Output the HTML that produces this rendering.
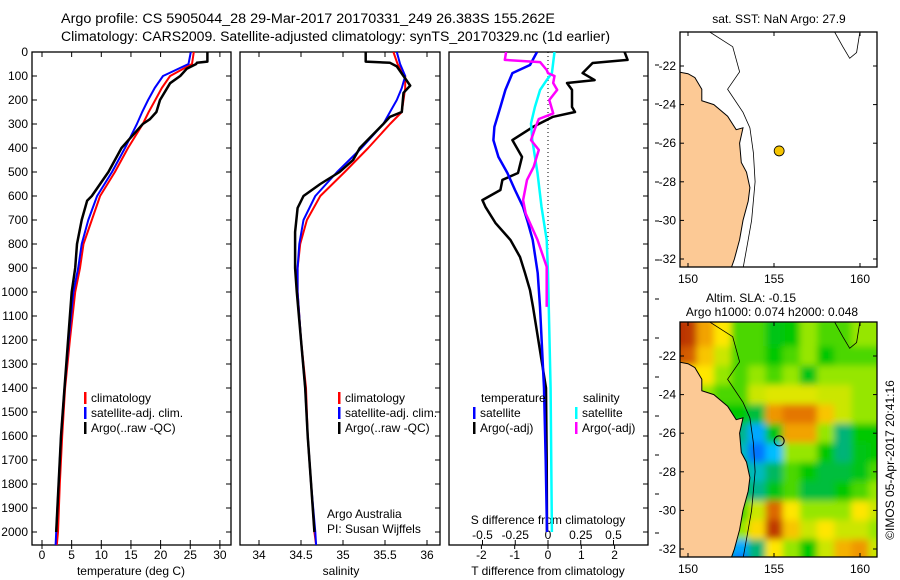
<!DOCTYPE html>
<html><head><meta charset="utf-8">
<style>
html,body{margin:0;padding:0;background:#fff;}
svg{display:block;font-family:"Liberation Sans",sans-serif;}
text{font-size:12px;fill:#000;}
</style></head>
<body>
<svg id="chart" width="900" height="580" viewBox="0 0 900 580">
<defs>
<clipPath id="c1"><rect x="32" y="52" width="199" height="493"/></clipPath>
<clipPath id="c2"><rect x="240" y="52" width="200" height="493"/></clipPath>
<clipPath id="c3"><rect x="449" y="52" width="199" height="493"/></clipPath>
<clipPath id="cm1"><rect x="680" y="32" width="197" height="235"/></clipPath>
<clipPath id="cm2"><rect x="680" y="322" width="197" height="235"/></clipPath>
<filter id="blur" x="-5%" y="-5%" width="110%" height="110%"><feGaussianBlur stdDeviation="3.5"/></filter>
</defs>
<text x="61" y="23" style="font-size:13.5px" textLength="494" lengthAdjust="spacingAndGlyphs">Argo profile: CS 5905044_28 29-Mar-2017 20170331_249 26.383S 155.262E</text>
<text x="61" y="41" style="font-size:13.5px" textLength="549" lengthAdjust="spacingAndGlyphs">Climatology: CARS2009. Satellite-adjusted climatology: synTS_20170329.nc (1d earlier)</text>
<g id="layer"></g>
</svg>
<script>
// ---------- data ----------
const depthTicks = [0,100,200,300,400,500,600,700,800,900,1000,1100,1200,1300,1400,1500,1600,1700,1800,1900,2000];
const tempTicks = [0,5,10,15,20,25,30];
const salTicks = [34,34.5,35,35.5,36];
const salTickLabels = ["34","34.5","35","35.5","36"];
const dTTicks = [-2,-1,0,1,2];
const dSTicks = [-0.5,-0.25,0,0.25,0.5];
const dSTickLabels = ["-0.5","-0.25","0","0.25","0.5"];

const climDepth = [0,50,100,150,200,250,300,400,500,600,700,800,900,1000,1200,1400,1600,1800,2000,2054];
const climTemp  = [25.6,25.3,21.6,20.2,19.1,18.0,17.0,14.5,12.3,9.8,8.4,7.0,6.4,5.6,4.7,3.9,3.4,3.0,2.7,2.5];
const satTemp   = [25.1,24.7,20.4,19.0,17.9,16.9,16.0,14.0,11.8,9.3,7.8,6.7,6.1,5.3,4.5,3.8,3.2,2.8,2.4,2.3];
const argoTDepth = [0,40,45,50,70,100,130,200,250,280,300,400,500,550,600,620,700,800,900,1000,1200,1400,1600,1800,2000];
const argoTemp   = [27.9,27.9,26.1,26.0,24.4,23.3,21.6,19.9,19.3,18.2,17.0,13.4,11.2,9.8,8.4,7.6,6.7,5.9,5.6,5.0,4.4,3.8,3.2,2.8,2.4];

const climSal = [35.60,35.65,35.74,35.74,35.72,35.70,35.56,35.30,35.02,34.73,34.57,34.49,34.46,34.46,34.50,34.56,34.58,34.62,34.66,34.68];
const satSal  = [35.64,35.68,35.74,35.70,35.64,35.56,35.48,35.22,34.93,34.67,34.53,34.48,34.46,34.46,34.50,34.55,34.58,34.62,34.67,34.68];
const argoSDepth = [0,40,45,60,100,140,170,250,270,300,400,450,500,550,600,650,750,900,1000,1200,1400,1600,1800,2000];
const argoSal    = [35.27,35.27,35.56,35.64,35.72,35.80,35.72,35.70,35.56,35.48,35.20,35.12,34.96,34.73,34.53,34.46,34.43,34.43,34.45,34.50,34.55,34.58,34.62,34.66];

const dTsatDepth = [0,54,88,158,229,312,367,437,504,575,645,712,783,921,1062,1400,1700,2000];
const dTsat      = [-0.33,-0.54,-1.07,-1.28,-1.43,-1.61,-1.64,-1.49,-1.22,-0.99,-0.75,-0.60,-0.46,-0.31,-0.24,-0.12,-0.07,-0.03];
const dTargoDepth = [0,33,46,88,117,129,158,229,250,270,312,367,437,504,533,575,617,645,712,783,854,921,992,1062,1400,1700,2000];
const dTargo      = [2.30,2.39,1.34,1.04,1.40,0.57,0.72,0.72,0.81,0.15,-0.45,-1.07,-0.78,-0.90,-1.37,-1.43,-1.97,-1.88,-1.58,-1.13,-0.84,-0.69,-0.54,-0.45,-0.06,-0.04,-0.03];
const dSsatDepth = [0,88,117,158,229,298,367,504,645,783,921,1400,2000];
const dSsat      = [0.05,0.03,-0.01,-0.06,-0.10,-0.13,-0.12,-0.08,-0.05,-0.01,0.00,0.02,0.03];
const dSargoDepth = [0,33,42,75,88,100,129,158,200,256,279,320,367,408,479,533,617,673,783,895,992,1062];
const dSargo      = [-0.32,-0.33,-0.06,-0.01,0.00,0.05,0.04,0.07,0.01,0.04,-0.07,-0.10,-0.13,-0.07,-0.11,-0.16,-0.19,-0.17,-0.08,-0.01,-0.01,-0.01];

const lonTicks = [150,155,160];
const latTicks = [-22,-24,-26,-28,-30,-32];
const argoLon = 155.3, argoLat = -26.4;
const slaLats = [-20.5,-21,-22,-23,-24,-25,-26,-27,-28,-29,-30,-31,-32,-32.5];
const slaLons = [149.5,150,151,152,153,154,155,156,157,158,159,160,161];
const slaGrid = [
 [0.98,0.95,0.70,0.60,0.45,0.45,0.38,0.40,0.50,0.45,0.45,0.50,0.50],
 [0.98,0.95,0.70,0.60,0.45,0.45,0.38,0.40,0.50,0.45,0.45,0.50,0.50],
 [0.88,0.85,0.65,0.55,0.45,0.45,0.40,0.45,0.50,0.40,0.45,0.45,0.45],
 [0.62,0.60,0.60,0.50,0.45,0.50,0.45,0.50,0.38,0.50,0.50,0.50,0.50],
 [0.55,0.50,0.50,0.45,0.45,0.55,0.57,0.57,0.57,0.55,0.55,0.50,0.50],
 [0.45,0.45,0.45,0.40,0.40,0.35,0.72,0.78,0.78,0.65,0.55,0.50,0.50],
 [0.40,0.40,0.40,0.35,0.28,0.12,0.38,0.70,0.70,0.50,0.30,0.40,0.40],
 [0.40,0.40,0.35,0.30,0.22,0.05,0.15,0.50,0.50,0.40,0.30,0.38,0.40],
 [0.40,0.40,0.40,0.35,0.32,0.22,0.32,0.45,0.40,0.35,0.35,0.38,0.45],
 [0.40,0.40,0.40,0.40,0.35,0.28,0.38,0.45,0.35,0.35,0.40,0.45,0.50],
 [0.45,0.45,0.45,0.40,0.45,0.55,0.82,0.60,0.50,0.50,0.50,0.60,0.55],
 [0.50,0.50,0.45,0.40,0.50,0.62,0.95,0.65,0.55,0.60,0.55,0.55,0.50],
 [0.50,0.50,0.45,0.40,0.12,0.30,0.60,0.50,0.40,0.55,0.68,0.72,0.55],
 [0.50,0.50,0.45,0.40,0.05,0.30,0.60,0.50,0.40,0.55,0.68,0.72,0.55]
];
const landLon = [149.4,150.0,150.4,150.8,150.8,151.5,152.3,152.8,153.2,153.0,153.1,153.4,153.6,153.5,153.2,153.0,152.7,152.5,149.4];
const landLat = [-22.3,-22.4,-22.6,-23.2,-23.8,-24.0,-24.6,-25.3,-25.2,-26.0,-27.0,-27.5,-28.3,-29.0,-30.0,-31.0,-32.0,-32.5,-32.5];
const isoLon = [151.2,152.6,153.0,152.3,153.2,153.6,153.8,153.9,153.7,153.5,153.2];
const isoLat = [-20.2,-21.0,-22.3,-23.2,-24.4,-25.2,-26.5,-28.0,-30.0,-31.0,-32.5];
const iso2Lon = [158.5,159.0,159.4,159.8,160.0];
const iso2Lat = [-20.2,-21.0,-21.6,-21.3,-20.2];

// ---------- scales ----------
const yD = d => 52 + d*0.24;
const xT = t => 42 + t*5.93;
const xS = s => 259 + (s-34)*84;
const xdT = v => 548 + v*33.3;
const xdS = v => 548 + v*131;
const mx = lon => 688 + (lon-150)*17.2;
const my1 = lat => 66 + (-22-lat)*19.3;
const my2 = lat => 356 + (-22-lat)*19.3;

const NS = "http://www.w3.org/2000/svg";
const layer = document.getElementById('layer');
function mk(tag, attrs, parent){
  const e = document.createElementNS(NS, tag);
  for (const k in attrs) e.setAttribute(k, attrs[k]);
  (parent||layer).appendChild(e);
  return e;
}
function txt(x,y,s,anchor,parent){
  const t = mk('text',{x:x,y:y,'text-anchor':anchor||'start'},parent);
  t.textContent = s; return t;
}
function line(x1,y1,x2,y2,parent,w){ return mk('line',{x1:x1,y1:y1,x2:x2,y2:y2,stroke:'#000','stroke-width':w||1},parent); }

function panelFrame(x0,x1,name){
  const r = mk('rect',{x:x0,y:52,width:x1-x0,height:493,fill:'none',stroke:'#000','stroke-width':1.3});
  
  
  depthTicks.forEach(d=>{ line(x1-5,yD(d),x1,yD(d)); });
}
function profile(depths, vals, sx, color, w, clip, name){
  let d = '';
  depths.forEach((dp,i)=>{ d += (i?'L':'M') + sx(vals[i]).toFixed(1) + ',' + yD(dp).toFixed(1); });
  const p = mk('path',{d:d,fill:'none',stroke:color,'stroke-width':w,'clip-path':'url(#'+clip+')','stroke-linejoin':'round'});
  
  
}

// depth axis labels
depthTicks.forEach(d=>{
  const t = txt(28, yD(d)+4, String(d), 'end');
  
  
  line(32,yD(d),37,yD(d));
});

// panel 1
panelFrame(32,231,'temperature-panel');
tempTicks.forEach(v=>{
  line(xT(v),545,xT(v),540); line(xT(v),52,xT(v),57);
  line(xT(v),545,xT(v),549);
  const t = txt(xT(v),559,String(v),'middle');
  
  
});
profile(climDepth, climTemp, xT, '#f00', 2, 'c1', 'climatology-temperature-line');
profile(climDepth, satTemp, xT, '#00f', 2, 'c1', 'satellite-temperature-line');
profile(argoTDepth, argoTemp, xT, '#000', 2.5, 'c1', 'argo-temperature-line');
txt(131,575,'temperature (deg C)','middle');

// panel 2
panelFrame(240,440,'salinity-panel');
salTicks.forEach((v,i)=>{
  line(xS(v),545,xS(v),540); line(xS(v),52,xS(v),57);
  const t = txt(xS(v),559,salTickLabels[i],'middle');
  
  
});
profile(climDepth, climSal, xS, '#f00', 2, 'c2', 'climatology-salinity-line');
profile(climDepth, satSal, xS, '#00f', 2, 'c2', 'satellite-salinity-line');
profile(argoSDepth, argoSal, xS, '#000', 2.5, 'c2', 'argo-salinity-line');
txt(341,575,'salinity','middle');
txt(327,518,'Argo Australia');
txt(327,533,'PI: Susan Wijffels');

// legends
function legendEntry(x,y,color,label,name){
  const g = mk('g',{});
  
  
  mk('rect',{x:x,y:y-10,width:2.5,height:12,fill:color},g);
  txt(x+7,y,label,'start',g);
}
legendEntry(84,402,'#f00','climatology','legend-climatology');
legendEntry(84,417,'#00f','satellite-adj. clim.','legend-satellite-adj');
legendEntry(84,432,'#000','Argo(..raw -QC)','legend-argo');
legendEntry(338,402,'#f00','climatology','legend-climatology-2');
legendEntry(338,417,'#00f','satellite-adj. clim.','legend-satellite-adj-2');
legendEntry(338,432,'#000','Argo(..raw -QC)','legend-argo-2');

// panel 3
panelFrame(449,648,'difference-panel');
for (let y=65; y<545; y+=39) line(655,y,659,y);
mk('line',{x1:548,y1:52,x2:548,y2:250,stroke:'#000','stroke-dasharray':'1,3','stroke-width':1});
dTTicks.forEach(v=>{
  line(xdT(v),545,xdT(v),549);
  const t = txt(xdT(v),559,String(v),'middle');
  
  
});
dSTicks.forEach((v,i)=>{
  line(xdS(v),540,xdS(v),545);
  const t = txt(xdS(v),539,dSTickLabels[i],'middle');
  
  
});
txt(548,524,'S difference from climatology','middle');
txt(548,575,'T difference from climatology','middle');
profile(dTargoDepth, dTargo, xdT, '#000', 2.5, 'c3', 'argo-tdiff-line');
profile(dTsatDepth, dTsat, xdT, '#00f', 2.5, 'c3', 'satellite-tdiff-line');
profile(dSsatDepth, dSsat, xdS, '#0ff', 2.5, 'c3', 'satellite-sdiff-line');
profile(dSargoDepth, dSargo, xdS, '#f0f', 2.5, 'c3', 'argo-sdiff-line');
txt(481,402,'temperature');
txt(583,402,'salinity');
legendEntry(473,417,'#00f','satellite','legend-t-satellite');
legendEntry(473,432,'#000','Argo(-adj)','legend-t-argo');
legendEntry(575,417,'#0ff','satellite','legend-s-satellite');
legendEntry(575,432,'#f0f','Argo(-adj)','legend-s-argo');

// ---------- maps ----------
function poly(lons,lats,my,close){
  return lons.map((l,i)=>(i?'L':'M')+mx(l).toFixed(1)+','+my(lats[i]).toFixed(1)).join('')+(close?'Z':'');
}
function slaColor(v){
  const stops=[[0,[0,80,255]],[0.15,[0,190,255]],[0.3,[0,180,120]],[0.4,[0,200,0]],[0.5,[150,230,0]],[0.6,[255,230,0]],[0.75,[235,130,0]],[1,[180,40,0]]];
  for(let i=1;i<stops.length;i++){ if(v<=stops[i][0]){ const a=stops[i-1],b=stops[i],f=(v-a[0])/(b[0]-a[0]); return 'rgb('+a[1].map((c,k)=>Math.round(c+(b[1][k]-c)*f)).join(',')+')'; } }
  return 'rgb(180,40,0)';
}
function drawMap(my, clip, yTop, name, withSLA){
  const g = mk('g',{'clip-path':'url(#'+clip+')'});
  
  
  if (withSLA){
    const hg = mk('g',{filter:'url(#blur)'},g);
    slaGrid.forEach((row,i)=>{
      const la0 = i===0 ? -20 : (slaLats[i]+slaLats[i-1])/2;
      const la1 = i===slaLats.length-1 ? -33 : (slaLats[i]+slaLats[i+1])/2;
      row.forEach((v,j)=>{
        const lo0 = j===0 ? 149 : (slaLons[j]+slaLons[j-1])/2;
        const lo1 = j===slaLons.length-1 ? 162 : (slaLons[j]+slaLons[j+1])/2;
        const c = mk('rect',{x:mx(lo0),y:my(la0),width:mx(lo1)-mx(lo0)+0.5,height:my(la1)-my(la0)+0.5,fill:slaColor(v)},hg);
        
        
      });
    });
  }
  mk('path',{d:poly(landLon,landLat,my,true),fill:'#fcc995',stroke:'#000','stroke-width':1},g);
  mk('path',{d:poly(isoLon,isoLat,my,false),fill:'none',stroke:'#000','stroke-width':0.8},g);
  mk('path',{d:poly(iso2Lon,iso2Lat,my,false),fill:'none',stroke:'#000','stroke-width':0.8},g);
  mk('rect',{x:680,y:yTop,width:197,height:235,fill:'none',stroke:'#000','stroke-width':1.3});
  lonTicks.forEach(l=>{
    line(mx(l),yTop+235,mx(l),yTop+231); line(mx(l),yTop,mx(l),yTop+4);
    const t = txt(mx(l),yTop+251,String(l),'middle');
    
    
  });
  latTicks.forEach(la=>{
    line(680,my(la),684,my(la)); line(877,my(la),873,my(la));
    const t = txt(676,my(la)+4,String(la),'end');
    
    
  });
}
drawMap(my1,'cm1',32,'sst-map',false);
const dot1 = mk('circle',{cx:mx(argoLon),cy:my1(argoLat),r:5,fill:'#f5c400',stroke:'#000','stroke-width':0.8});


txt(779,23,'sat. SST: NaN Argo: 27.9','middle');
drawMap(my2,'cm2',322,'sla-map',true);
const dot2 = mk('circle',{cx:mx(argoLon),cy:my2(argoLat),r:5,fill:'none',stroke:'#000','stroke-width':1});


txt(751,302,'Altim. SLA: -0.15','middle');
txt(772,316,'Argo h1000: 0.074 h2000: 0.048','middle');
const cr = txt(0,0,'©IMOS 05-Apr-2017 20:41:16','middle');
cr.setAttribute('transform','translate(894,460) rotate(-90)');


</script>
</body></html>
